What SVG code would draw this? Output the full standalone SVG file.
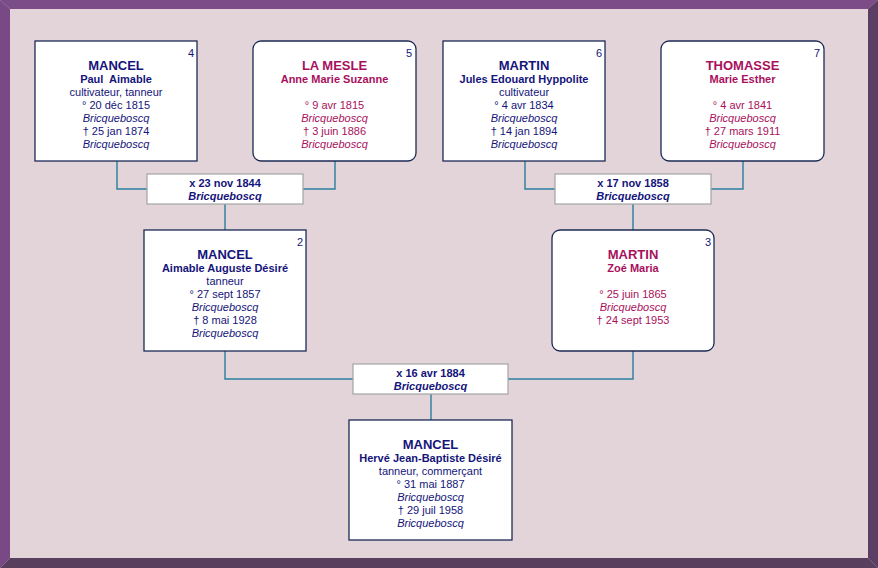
<svg xmlns="http://www.w3.org/2000/svg" width="878" height="568" viewBox="0 0 878 568">
<style>
text{font-family:"Liberation Sans",Arial,sans-serif;font-size:11px;text-anchor:middle}
.m{fill:#14147a}
.f{fill:#a8105c}
.sn{font-size:13px;font-weight:bold}
.gn{font-weight:bold}
.it{font-style:italic}
.num{text-anchor:end;fill:#14147a}
.box{fill:#fff;stroke:#1c2a55;stroke-width:1.3}
.mbox{fill:#fff;stroke:#a4a4a4;stroke-width:1.2}
.mt{fill:#14147a;font-weight:bold}
.conn{fill:none;stroke:#2a7f9e;stroke-width:1.4}
</style>
<rect x="0" y="0" width="878" height="568" fill="#e2d4d9"/>
<g id="frame">
<polygon points="0,0 878,0 868,9 10,9" fill="#7b4c88"/>
<polygon points="0,0 10,9 10,558 0,568" fill="#784985"/>
<polygon points="878,0 878,568 868,558 868,9" fill="#5b3e63"/>
<polygon points="0,568 878,568 868,558 10,558" fill="#5a3e5e"/>
</g>
<g id="connectors">
<polyline class="conn" points="117,161 117,189 147,189"/>
<polyline class="conn" points="335,161 335,189 303,189"/>
<polyline class="conn" points="225,204 225,230"/>
<polyline class="conn" points="525,161 525,189 555,189"/>
<polyline class="conn" points="743,161 743,189 711,189"/>
<polyline class="conn" points="633,204 633,230"/>
<polyline class="conn" points="225,351 225,379 353,379"/>
<polyline class="conn" points="633,351 633,379 508,379"/>
<polyline class="conn" points="431,394 431,420"/>
</g>
<g id="node4">
<rect class="box" x="35" y="41" width="162" height="120"/>
<text class="num" x="194" y="57">4</text>
<text class="m sn" x="116" y="70">MANCEL</text>
<text class="m gn" x="116" y="83" xml:space="preserve">Paul  Aimable</text>
<text class="m" x="116" y="96">cultivateur, tanneur</text>
<text class="m" x="116" y="109">° 20 déc 1815</text>
<text class="m it" x="116" y="122">Bricqueboscq</text>
<text class="m" x="116" y="135">† 25 jan 1874</text>
<text class="m it" x="116" y="148">Bricqueboscq</text>
</g>
<g id="node5">
<rect class="box" x="253" y="41" width="163" height="120" rx="8"/>
<text class="num" x="412" y="57">5</text>
<text class="f sn" x="334.5" y="70">LA MESLE</text>
<text class="f gn" x="334.5" y="83">Anne Marie Suzanne</text>
<text class="f" x="334.5" y="109">° 9 avr 1815</text>
<text class="f it" x="334.5" y="122">Bricqueboscq</text>
<text class="f" x="334.5" y="135">† 3 juin 1886</text>
<text class="f it" x="334.5" y="148">Bricqueboscq</text>
</g>
<g id="node6">
<rect class="box" x="443" y="41" width="162" height="120"/>
<text class="num" x="602" y="57">6</text>
<text class="m sn" x="524" y="70">MARTIN</text>
<text class="m gn" x="524" y="83">Jules Edouard Hyppolite</text>
<text class="m" x="524" y="96">cultivateur</text>
<text class="m" x="524" y="109">° 4 avr 1834</text>
<text class="m it" x="524" y="122">Bricqueboscq</text>
<text class="m" x="524" y="135">† 14 jan 1894</text>
<text class="m it" x="524" y="148">Bricqueboscq</text>
</g>
<g id="node7">
<rect class="box" x="661" y="41" width="163" height="120" rx="8"/>
<text class="num" x="820" y="57">7</text>
<text class="f sn" x="742.5" y="70">THOMASSE</text>
<text class="f gn" x="742.5" y="83">Marie Esther</text>
<text class="f" x="742.5" y="109">° 4 avr 1841</text>
<text class="f it" x="742.5" y="122">Bricqueboscq</text>
<text class="f" x="742.5" y="135">† 27 mars 1911</text>
<text class="f it" x="742.5" y="148">Bricqueboscq</text>
</g>
<g id="marriage45">
<rect class="mbox" x="147" y="174" width="156" height="30"/>
<text class="mt" x="225" y="187">x 23 nov 1844</text>
<text class="mt it" x="225" y="200">Bricqueboscq</text>
</g>
<g id="marriage67">
<rect class="mbox" x="555" y="174" width="156" height="30"/>
<text class="mt" x="633" y="187">x 17 nov 1858</text>
<text class="mt it" x="633" y="200">Bricqueboscq</text>
</g>
<g id="node2">
<rect class="box" x="144" y="230" width="162" height="121"/>
<text class="num" x="303" y="246">2</text>
<text class="m sn" x="225" y="259">MANCEL</text>
<text class="m gn" x="225" y="272">Aimable Auguste Désiré</text>
<text class="m" x="225" y="285">tanneur</text>
<text class="m" x="225" y="298">° 27 sept 1857</text>
<text class="m it" x="225" y="311">Bricqueboscq</text>
<text class="m" x="225" y="324">† 8 mai 1928</text>
<text class="m it" x="225" y="337">Bricqueboscq</text>
</g>
<g id="node3">
<rect class="box" x="552" y="230" width="162" height="121" rx="8"/>
<text class="num" x="711" y="246">3</text>
<text class="f sn" x="633" y="259">MARTIN</text>
<text class="f gn" x="633" y="272">Zoé Maria</text>
<text class="f" x="633" y="298">° 25 juin 1865</text>
<text class="f it" x="633" y="311">Bricqueboscq</text>
<text class="f" x="633" y="324">† 24 sept 1953</text>
</g>
<g id="marriage23">
<rect class="mbox" x="353" y="364" width="155" height="30"/>
<text class="mt" x="430.5" y="377">x 16 avr 1884</text>
<text class="mt it" x="430.5" y="390">Bricqueboscq</text>
</g>
<g id="node1">
<rect class="box" x="349" y="420" width="163" height="120"/>
<text class="m sn" x="430.5" y="449">MANCEL</text>
<text class="m gn" x="430.5" y="462">Hervé Jean-Baptiste Désiré</text>
<text class="m" x="430.5" y="475">tanneur, commerçant</text>
<text class="m" x="430.5" y="488">° 31 mai 1887</text>
<text class="m it" x="430.5" y="501">Bricqueboscq</text>
<text class="m" x="430.5" y="514">† 29 juil 1958</text>
<text class="m it" x="430.5" y="527">Bricqueboscq</text>
</g>
</svg>
